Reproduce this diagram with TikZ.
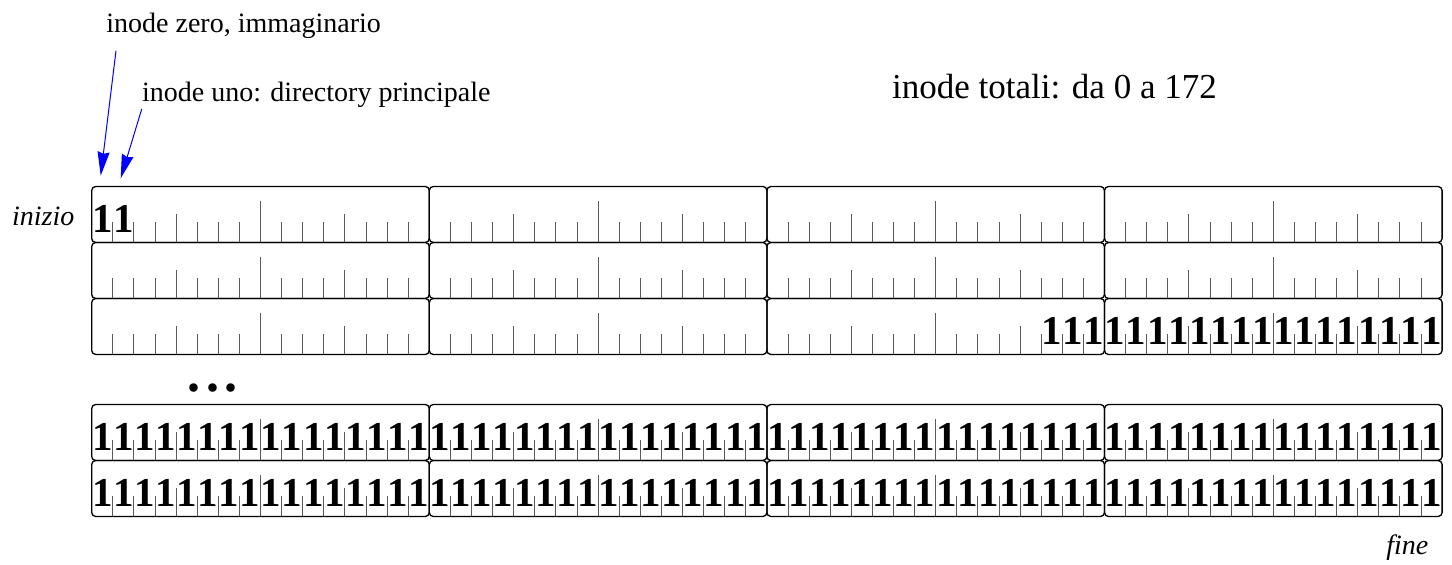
\documentclass[tikz,border=0pt]{standalone}
\usepackage{fontspec}
\setmainfont{Liberation Serif}
\usepackage{tikz}
\usetikzlibrary{positioning,arrows.meta}

\begin{document}
\begin{tikzpicture}[
  x=0.5pt, y=-0.5pt,
  blk/.style={draw, rounded corners=2pt, line width=0.65pt, inner sep=0pt, outer sep=0pt,
    minimum width=168.8pt, minimum height=28pt, anchor=north west},
  tick/.style={draw=black!65, line width=0.5pt},
  bit/.style={font=\fontsize{20.5}{22}\selectfont\bfseries, anchor=base, inner sep=0pt},
  lbl/.style={font=\fontsize{14}{16}\selectfont, anchor=base west, inner sep=0pt},
  side/.style={lbl, font=\fontsize{14}{16}\selectfont\itshape},
  arrow/.style={-{Stealth[length=12pt,width=6pt,inset=1pt]}, blue, line width=0.5pt}]
\useasboundingbox (0,0) rectangle (1452,565);
% labels
\node[lbl] (zero) at (106,32.3) {inode zero, immaginario};
\node[lbl] (uno) at (141.7,101.7) {inode uno: directory principale};
\node[lbl, font=\fontsize{17.5}{20}\selectfont] (tot) at (891.7,98.3) {inode totali: da 0 a 172};
\node[side] (inizio) at (11.7,225.7) {inizio};
\node[side] (fine) at (1386,555) {fine};
\node[anchor=base west, inner sep=0pt, font=\fontsize{26}{28}\selectfont\bfseries] (dots) at (187.5,391.5)
  {.\hspace{2.6pt}.\hspace{2.6pt}.};
% blocks with ticks
\foreach \r/\ytop in {1/186.5, 2/242.5, 3/298.5, 4/404.5, 5/460.5} {
  \foreach \c in {0,...,3} {
    \node[blk] (b\r\c) at (91.7+\c*337.6,\ytop) {};
    \foreach \i in {1,...,15} {
      \pgfmathsetmacro\h{\i==8 ? 41 : (mod(\i,4)==0 ? 28 : 20)}
      \draw[tick] ([xshift=\i*10.55pt]b\r\c.south west) -- ++(0,-\h);
    }
  }
}
% bits set to one
\foreach \r/\c/\from in {1/0/0, 3/2/13, 3/3/0, 4/0/0, 4/1/0, 4/2/0, 4/3/0, 5/0/0, 5/1/0, 5/2/0, 5/3/0} {
  \pgfmathtruncatemacro\to{(\r==1) ? 1 : 15}
  \foreach \i in {\from,...,\to}
    \node[bit] (one\r\c-\i) at ([xshift=(\i+0.5)*10.55pt, yshift=5pt]b\r\c.south west) {1};
}
% arrows
\coordinate (zero-to) at (100.7,175.7);
\coordinate (uno-to) at (120.7,178.3);
\draw[arrow] ([xshift=5pt,yshift=-6pt]zero.south west) -- (zero-to);
\draw[arrow] ([yshift=-0.5pt]uno.south west) -- (uno-to);
\end{tikzpicture}
\end{document}
